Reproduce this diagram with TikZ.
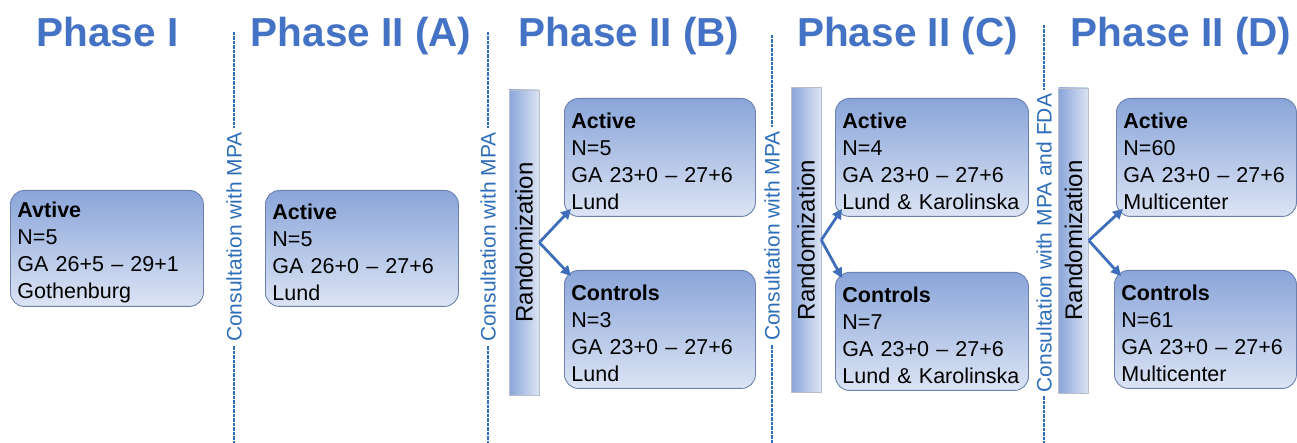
\documentclass[tikz,border=0pt]{standalone}
\usepackage{fontspec}
\setmainfont{Liberation Sans}
\usetikzlibrary{arrows.meta}
\definecolor{boxtop}{RGB}{138,165,217}
\definecolor{boxbot}{RGB}{220,228,244}
\definecolor{boxline}{RGB}{108,130,172}
\definecolor{titleblue}{RGB}{68,114,196}
\definecolor{consblue}{RGB}{46,110,185}
\definecolor{arrowblue}{RGB}{62,110,185}
\definecolor{barline}{RGB}{185,192,205}
\begin{document}
\begin{tikzpicture}[x=1pt,y=1pt,
  grp/.style={rectangle, rounded corners=14pt, draw=boxline, line width=0.9pt,
    top color=boxtop, bottom color=boxbot, text width=#1, inner xsep=7pt,
    inner ysep=0pt, align=left, anchor=north west,
    font=\fontsize{21.5}{27}\selectfont, text=black,
    execute at begin node={\rule{0pt}{24pt}}},
  titletxt/.style={anchor=base, text=titleblue, font=\fontsize{40.5}{48}\selectfont\bfseries},
  cons/.style={rotate=90, text=consblue, font=\fontsize{21}{25}\selectfont, inner sep=4pt},
  dashline/.style={draw=consblue, line width=1.6pt, dash pattern=on 3.5pt off 1pt},
  bar/.style={rectangle, draw=barline, line width=0.6pt, left color=boxtop,
    right color=boxbot, minimum width=30pt, minimum height=305pt, inner sep=0pt},
  randtxt/.style={rotate=90, font=\fontsize{24}{28}\selectfont, text=black},
  arr/.style={draw=arrowblue, line width=2.8pt, -{Triangle[length=10pt,width=10pt]}}
]
\useasboundingbox (0,0) rectangle (1297,443);

% titles
\node[titletxt] (t1) at (107.5,396) {Phase I};
\node[titletxt] (t2) at (361,396) {Phase II (A)};
\node[titletxt] (t3) at (629,396) {Phase II (B)};
\node[titletxt] (t4) at (907.5,396) {Phase II (C)};
\node[titletxt] (t5) at (1181,396) {Phase II (D)};

% consultation lines
\node[cons] (c1) at (234,206) {Consultation with MPA};
\coordinate (c1top) at (234,411);
\coordinate (c1bot) at (234,0);
\draw[dashline] (c1top) -- (c1.east);
\draw[dashline] (c1.west) -- (c1bot);

\node[cons] (c2) at (488,206) {Consultation with MPA};
\coordinate (c2top) at (488,411);
\coordinate (c2bot) at (488,0);
\draw[dashline] (c2top) -- (c2.east);
\draw[dashline] (c2.west) -- (c2bot);

\node[cons] (c3) at (772,207) {Consultation with MPA};
\coordinate (c3top) at (772,408);
\coordinate (c3bot) at (772,0);
\draw[dashline] (c3top) -- (c3.east);
\draw[dashline] (c3.west) -- (c3bot);

\node[cons] (c4) at (1044,200) {Consultation with MPA and FDA};
\coordinate (c4top) at (1044,418);
\coordinate (c4bot) at (1044,0);
\draw[dashline] (c4top) -- (c4.east);
\draw[dashline] (c4.west) -- (c4bot);

% phase I and II(A)
\node[grp=179pt, minimum height=116pt] (p1) at (10,253)
  {\textbf{Avtive}\\N=5\\GA 26+5 – 29+1\\Gothenburg};
\node[grp=179pt, minimum height=116pt] (p2a) at (265,253)
  {\textbf{Active}\\N=5\\GA 26+0 – 27+6\\Lund};

% phase II(B)
\node[bar] (barB) at (524,200.5) {};
\node[randtxt] (rB) at (barB.center) {Randomization};
\node[grp=177pt, minimum height=118pt] (actB) at (564,345)
  {\textbf{Active}\\N=5\\GA 23+0 – 27+6\\Lund};
\node[grp=177pt, minimum height=118pt] (ctrB) at (564,173)
  {\textbf{Controls}\\N=3\\GA 23+0 – 27+6\\Lund};
\draw[arr] (barB.east) -- ([shift={(7,8)}]actB.south west);
\draw[arr] (barB.east) -- ([shift={(7,-6)}]ctrB.north west);

% phase II(C)
\node[bar] (barC) at (806,203) {};
\node[randtxt] (rC) at (barC.center) {Randomization};
\node[grp=179pt, minimum height=118pt] (actC) at (835,345)
  {\textbf{Active}\\N=4\\GA 23+0 – 27+6\\Lund \& Karolinska};
\node[grp=179pt, minimum height=118pt] (ctrC) at (835,171)
  {\textbf{Controls}\\N=7\\GA 23+0 – 27+6\\Lund \& Karolinska};
\draw[arr] (barC.east) -- ([shift={(7,8)}]actC.south west);
\draw[arr] (barC.east) -- ([shift={(7,-6)}]ctrC.north west);

% phase II(D)
\node[bar] (barD) at (1073.5,202.5) {};
\node[randtxt] (rD) at (barD.center) {Randomization};
\node[grp=166pt, minimum height=118pt] (actD) at (1116,345)
  {\textbf{Active}\\N=60\\GA 23+0 – 27+6\\Multicenter};
\node[grp=168pt, minimum height=118pt] (ctrD) at (1114,173)
  {\textbf{Controls}\\N=61\\GA 23+0 – 27+6\\Multicenter};
\draw[arr] (barD.east) -- ([shift={(7,8)}]actD.south west);
\draw[arr] (barD.east) -- ([shift={(7,-6)}]ctrD.north west);
\end{tikzpicture}
\end{document}
